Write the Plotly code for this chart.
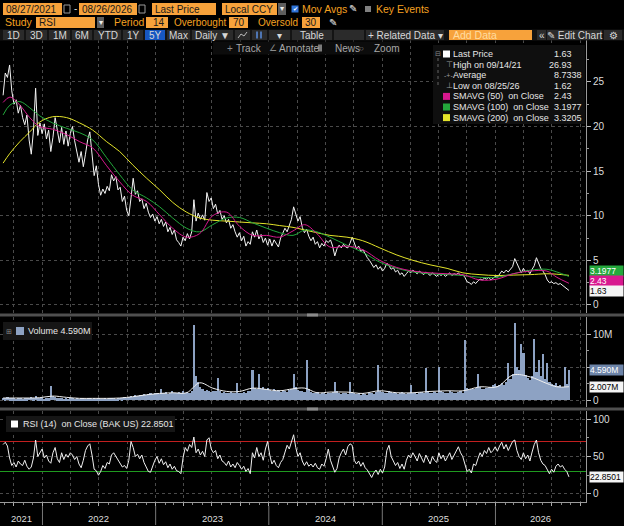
import numpy as np
import pandas as pd
import plotly.graph_objects as go

W, H = 624, 526
FONT = "Liberation Sans, Arial, sans-serif"

def PX(x):
    return x / W

def PY(y):
    return 1 - y / H

# ---------------- DATA ----------------
START, END = "2021-08-27", "2026-08-26"

price = [23.5, 26.0, 25.5, 26.9, 24.0, 22.5, 23.0, 21.5, 22.4, 21.0,
         20.2, 21.3, 18.5, 16.9, 19.5, 24.3, 19.0, 20.4, 19.2, 20.3,
         18.6, 19.6, 17.2, 18.8, 21.0, 19.4, 18.2, 19.9, 18.0, 19.5,
         17.8, 19.2, 20.0, 18.4, 17.0, 16.0, 17.2, 15.5, 16.9, 18.5,
         19.4, 17.2, 14.5, 15.6, 13.5, 12.3, 13.0, 12.5, 13.3, 12.8,
         14.6, 13.9, 14.4, 12.9, 13.2, 11.6, 12.2, 10.6, 10.0, 12.0,
         14.2, 12.4, 12.8, 11.6, 11.9, 10.8, 11.4, 10.4, 9.8, 10.2,
         9.4, 9.9, 9.1, 9.6, 8.8, 9.3, 8.2, 8.7, 7.9, 8.4,
         7.3, 7.0, 6.6, 7.6, 7.2, 8.0, 7.4, 8.2, 11.8, 9.4,
         10.3, 9.6, 10.1, 9.5, 12.6, 11.6, 12.0, 10.8, 11.3, 10.2,
         10.6, 9.6, 10.0, 9.2, 9.6, 8.6, 9.0, 8.2, 7.6, 8.1,
         7.2, 7.7, 6.6, 7.1, 6.8, 8.2, 7.6, 8.4, 7.4, 7.9,
         7.0, 7.5, 6.7, 7.4, 6.6, 7.3, 6.9, 6.5, 7.5, 8.0,
         8.6, 8.2, 8.9, 9.6, 11.0, 10.2, 9.4, 9.9, 8.7, 8.1,
         8.5, 7.7, 7.2, 7.6, 6.8, 7.1, 6.4, 6.9, 6.6, 7.2,
         7.0, 7.3, 6.6, 5.5, 6.3, 6.7, 6.4, 6.8, 6.5, 6.4,
         6.9, 7.6, 6.9, 6.3, 6.6, 6.0, 6.2, 5.7, 5.3, 5.0,
         4.6, 4.2, 4.5, 4.0, 4.3, 3.8, 4.1, 4.7, 4.4, 4.0,
         4.2, 3.7, 3.9, 3.4, 3.6, 3.2, 3.5, 3.8, 3.6, 3.9,
         3.7, 3.5, 3.8, 3.6, 3.4, 3.7, 3.5, 3.3, 3.6, 3.4,
         3.2, 3.5, 3.3, 3.5, 3.2, 3.4, 3.6, 3.3, 3.5, 3.4,
         3.6, 3.3, 3.4, 3.1, 2.6, 2.5, 2.3, 2.6, 2.4, 2.7,
         2.9, 2.8, 3.0, 2.9, 3.1, 2.8, 3.0, 3.2, 3.1, 3.5,
         3.8, 3.6, 3.9, 3.7, 4.0, 4.3, 5.2, 4.6, 4.0, 3.6,
         4.1, 3.7, 3.9, 3.5, 4.0, 4.4, 5.3, 4.7, 4.1, 3.8,
         3.4, 2.8, 2.5, 2.6, 2.4, 2.5, 2.3, 2.4, 2.2, 2.0,
         1.8, 1.63]

rsi = [66, 69, 64, 48, 38, 42, 36, 44, 40, 38,
       45, 37, 33, 36, 48, 72, 50, 56, 60, 48,
       52, 44, 41, 55, 62, 47, 42, 55, 46, 53,
       49, 55, 52, 46, 50, 40, 35, 45, 58, 64,
       67, 52, 33, 31, 25, 30, 38, 34, 42, 40,
       52, 55, 50, 46, 40, 36, 38, 34, 45, 70,
       62, 50, 53, 47, 52, 42, 36, 30, 29, 38,
       45, 50, 41, 47, 39, 43, 35, 40, 33, 37,
       31, 30, 27, 48, 62, 57, 66, 62, 76, 55,
       60, 52, 57, 50, 72, 75, 60, 55, 58, 47,
       52, 44, 42, 38, 44, 36, 40, 35, 42, 38,
       33, 37, 30, 34, 27, 55, 48, 62, 50, 55,
       45, 60, 70, 52, 40, 45, 38, 35, 42, 46,
       55, 65, 60, 70, 79, 62, 50, 55, 44, 38,
       43, 37, 40, 36, 41, 35, 33, 40, 37, 47,
       60, 45, 38, 29, 34, 48, 55, 60, 52, 63,
       67, 65, 45, 40, 44, 37, 42, 35, 32, 26,
       22, 28, 32, 26, 33, 28, 36, 58, 65, 50,
       44, 38, 42, 34, 40, 33, 45, 52, 48, 55,
       50, 44, 54, 48, 42, 52, 46, 40, 50, 45,
       42, 55, 47, 52, 44, 49, 55, 46, 52, 58,
       63, 55, 50, 40, 30, 33, 28, 40, 38, 47,
       55, 50, 58, 54, 62, 55, 58, 63, 57, 64,
       69, 60, 66, 58, 64, 70, 72, 58, 50, 46,
       55, 47, 52, 44, 56, 66, 72, 55, 45, 40,
       38, 32, 27, 33, 29, 37, 40, 36, 38, 33,
       30, 22.85]

volume_m = [0.35, 0.3, 0.4, 0.3, 0.25, 0.3, 0.2, 0.25, 0.3, 0.2,
            0.25, 0.3, 0.35, 0.4, 0.3, 0.6, 0.3, 0.25, 0.3, 0.2,
            0.25, 0.3, 2.1, 0.6, 0.4, 0.3, 0.25, 0.3, 0.2, 0.25,
            0.2, 0.25, 0.3, 0.2, 0.25, 0.2, 0.3, 0.25, 0.2, 0.3,
            0.25, 0.2, 0.3, 0.2, 0.25, 0.2, 0.2, 0.25, 0.2, 0.3,
            0.25, 0.3, 0.2, 0.3, 0.35, 0.3, 0.4, 0.35, 0.5, 0.6,
            0.5, 0.7, 0.6, 0.8, 0.7, 0.9, 0.8, 0.9, 1.0, 0.9,
            1.0, 1.0, 0.9, 1.6, 1.0, 1.2, 0.9, 1.1, 1.3, 1.0,
            1.1, 1.2, 1.0, 1.3, 1.1, 1.2, 1.0, 1.4, 11.3, 3.6,
            2.8, 2.0, 1.6, 1.4, 1.5, 1.3, 1.2, 1.4, 1.3, 3.4,
            1.3, 1.1, 1.2, 1.0, 1.1, 1.2, 1.0, 1.1, 2.6, 1.1,
            1.0, 1.2, 1.1, 1.3, 1.4, 4.5, 1.8, 1.6, 4.0, 1.7,
            1.9, 1.6, 1.8, 1.5, 1.4, 1.6, 1.3, 1.5, 1.2, 1.4,
            1.3, 1.2, 1.5, 1.6, 4.0, 1.9, 1.5, 1.3, 1.4, 1.2,
            6.1, 1.6, 1.2, 1.1, 1.0, 1.2, 0.9, 1.1, 1.0, 0.9,
            1.0, 1.1, 1.2, 2.8, 1.3, 1.0, 0.9, 1.1, 1.0, 0.9,
            2.8, 1.2, 1.0, 0.9, 1.1, 0.8, 1.0, 0.9, 0.8, 1.0,
            1.1, 0.9, 1.2, 5.3, 1.4, 1.2, 1.0, 1.1, 1.3, 1.2,
            1.0, 1.1, 0.9, 1.0, 1.2, 1.1, 0.9, 1.0, 2.3, 1.1,
            1.0, 0.9, 1.1, 1.2, 1.0, 4.8, 1.3, 1.1, 1.0, 1.2,
            1.1, 5.0, 1.4, 1.2, 1.0, 1.1, 1.3, 1.2, 1.0, 1.1,
            1.2, 1.3, 1.1, 9.1, 1.8, 1.5, 1.7, 1.6, 1.8, 4.0,
            1.9, 1.7, 1.6, 1.8, 2.0, 1.9, 2.2, 2.4, 2.1, 2.3,
            2.6, 2.2, 2.8, 5.6, 3.2, 4.0, 11.6, 5.0, 4.5, 8.5,
            7.1, 3.8, 3.4, 3.0, 3.6, 9.2, 4.2, 6.0, 3.6, 7.0,
            3.2, 5.6, 2.8, 2.4, 2.2, 2.6, 2.1, 2.3, 2.0, 5.0,
            2.4, 4.59]

ma_dates = ["2021-08-27", "2021-09-18", "2021-10-20", "2021-11-21", "2021-12-23",
            "2022-02-03", "2022-03-20", "2022-05-01", "2022-06-12", "2022-07-27",
            "2022-09-07", "2022-10-19", "2022-12-03", "2023-01-14", "2023-02-25",
            "2023-04-11", "2023-05-23", "2023-07-04", "2023-08-18", "2023-09-29",
            "2023-11-10", "2023-12-25", "2024-02-05", "2024-03-19", "2024-04-26",
            "2024-06-04", "2024-07-16", "2024-09-09", "2024-10-30", "2024-12-24",
            "2025-02-17", "2025-04-10", "2025-06-04", "2025-07-29", "2025-09-18",
            "2025-11-12", "2026-01-06", "2026-02-27", "2026-04-23", "2026-06-16",
            "2026-07-18", "2026-08-26"]
sma50 = [22.7, 23.3, 22.4, 21.0, 20.0, 19.7, 19.1, 18.3, 17.6, 15.6,
         13.8, 12.3, 11.6, 10.1, 8.6, 7.6, 8.0, 10.0, 10.4, 8.8,
         7.8, 7.8, 7.6, 8.3, 9.0, 8.0, 6.5, 6.6, 6.2, 5.0,
         4.2, 3.8, 3.6, 3.5, 3.4, 2.8, 2.9, 3.5, 3.8, 3.8,
         3.1, 2.43]
sma100 = [21.3, 22.4, 22.8, 22.1, 21.2, 20.4, 19.8, 19.3, 18.5, 16.5,
          14.6, 12.9, 12.0, 11.0, 9.75, 8.6, 8.2, 9.0, 9.75, 9.8,
          9.2, 8.6, 8.1, 7.8, 8.4, 8.2, 7.6, 6.7, 5.9, 4.8,
          4.1, 3.7, 3.5, 3.4, 3.3, 3.1, 3.1, 3.5, 3.9, 4.0,
          3.7, 3.1977]
sma200 = [15.9, 17.0, 18.3, 19.4, 20.5, 21.1, 21.0, 20.4, 19.6, 18.3,
          17.2, 15.7, 14.2, 12.9, 11.5, 10.4, 9.75, 9.5, 9.4, 9.3,
          9.2, 9.1, 8.9, 8.7, 8.4, 8.1, 7.8, 7.6, 7.2, 6.4,
          5.6, 5.0, 4.5, 4.1, 3.6, 3.4, 3.3, 3.35, 3.4, 3.5,
          3.45, 3.3205]
vol_ma_m = [0.3, 0.3, 0.3, 0.3, 0.35, 0.6, 0.4, 0.25, 0.25, 0.25,
            0.3, 0.5, 0.8, 1.0, 1.1, 1.1, 2.6, 1.8, 1.3, 1.3,
            1.8, 1.6, 1.4, 1.7, 1.8, 1.1, 1.2, 1.2, 1.0, 1.4,
            1.1, 1.1, 1.3, 1.4, 1.4, 2.0, 2.0, 3.8, 3.5, 2.5,
            2.0, 2.007]

rsi_overbought, rsi_oversold = 70, 30

year_labels = ["2021", "2022", "2023", "2024", "2025", "2026"]
year_label_dates = ["2021-10-26", "2022-07-02", "2023-07-02", "2024-07-01", "2025-07-02", "2026-05-26"]
year_starts = ["2022-01-01", "2023-01-01", "2024-01-01", "2025-01-01", "2026-01-01"]

legend_rows = [("Last Price", "1.63"), ("High on 09/14/21", "26.93"), ("Average", "8.7338"),
               ("Low on 08/25/26", "1.62"), ("SMAVG (50)  on Close", "2.43"),
               ("SMAVG (100)  on Close", "3.1977"), ("SMAVG (200)  on Close", "3.3205")]

X_RANGE = ["2021-08-17", "2026-10-20"]

# ---------------- DERIVED DATES ----------------
t0, t1 = pd.Timestamp(START), pd.Timestamp(END)

def grid(n):
    return pd.to_datetime(np.linspace(t0.value, t1.value, n))

d_price = grid(len(price))
d_rsi = grid(len(rsi))
d_vol = grid(len(volume_m))
bar_w = (t1 - t0).total_seconds() * 1000 / (len(volume_m) - 1)
ma_d = pd.to_datetime(ma_dates)

C_MAG, C_GRN, C_YEL = "#d8188f", "#24a83c", "#e4e42a"
C_VOL = "#8da2c3"

fig = go.Figure()
fig.add_trace(go.Scatter(x=d_price, y=price, mode="lines", line=dict(color="#f4f4f4", width=1),
                         xaxis="x", yaxis="y"))
for arr, col in [(sma200, C_YEL), (sma100, C_GRN), (sma50, C_MAG)]:
    fig.add_trace(go.Scatter(x=ma_d, y=arr, mode="lines", line=dict(color=col, width=1, shape="spline"),
                             xaxis="x", yaxis="y"))
fig.add_trace(go.Bar(x=d_vol, y=[v * 1e6 for v in volume_m], width=bar_w,
                     marker=dict(color=C_VOL, line=dict(width=0)), xaxis="x2", yaxis="y2"))
fig.add_trace(go.Scatter(x=ma_d, y=[v * 1e6 for v in vol_ma_m], mode="lines",
                         line=dict(color="#f0f0f0", width=1, shape="spline"), xaxis="x2", yaxis="y2"))
for lvl, col in [(rsi_overbought, "#c21f1f"), (rsi_oversold, "#1f9a1f")]:
    fig.add_trace(go.Scatter(x=X_RANGE, y=[lvl, lvl], mode="lines", line=dict(color=col, width=1.2),
                             xaxis="x3", yaxis="y3"))
fig.add_trace(go.Scatter(x=d_rsi, y=rsi, mode="lines", line=dict(color="#f0f0f0", width=1),
                         xaxis="x3", yaxis="y3"))

XD = [0, 586 / W]
GRID = "#4a4a4a"
xcommon = dict(type="date", range=X_RANGE, domain=XD, showgrid=True, gridcolor=GRID, griddash="dot",
               gridwidth=1, tick0="2021-10-01", dtick="M3", showticklabels=False, zeroline=False,
               showline=False, ticks="")
ycommon = dict(side="right", showgrid=True, gridcolor=GRID, griddash="dot", gridwidth=1, zeroline=False,
               showline=True, linecolor="#9a9a9a", linewidth=1, ticks="outside", ticklen=4,
               tickcolor="#bbbbbb", tickfont=dict(family=FONT, size=10, color="#dddddd"))

fig.update_layout(
    width=W, height=H, margin=dict(l=0, r=0, t=0, b=0),
    paper_bgcolor="black", plot_bgcolor="black", showlegend=False, hovermode=False,
    bargap=0,
    xaxis=dict(xcommon, anchor="y"),
    xaxis2=dict(xcommon, anchor="y2", matches="x"),
    xaxis3=dict(xcommon, anchor="y3", matches="x", showline=True, linecolor="#9a9a9a",
                ticks="outside", ticklen=3, tickcolor="#aaaaaa",
                minor=dict(dtick="M1", ticks="outside", ticklen=2, tickcolor="#888888", showgrid=False)),
    yaxis=dict(ycommon, anchor="x", domain=[PY(313), PY(40)], range=[-0.9, 29.7], tick0=0, dtick=5,
               minor=dict(dtick=2.5, ticks="outside", ticklen=2, tickcolor="#999999", showgrid=False)),
    yaxis2=dict(ycommon, anchor="x2", domain=[PY(407), PY(317)], range=[-1.06e6, 12.58e6],
                tickmode="array", tickvals=[0, 5e6, 1e7], ticktext=["0", "", "10M"],
                minor=dict(tickvals=[2.5e6, 7.5e6], ticks="outside", ticklen=2, tickcolor="#999999",
                           showgrid=False)),
    yaxis3=dict(ycommon, anchor="x3", domain=[PY(502), PY(411)], range=[-10.7, 110.7],
                tickmode="array", tickvals=[0, 50, 100], ticktext=["0", "50", "100"],
                minor=dict(tickvals=[25, 75], ticks="outside", ticklen=2, tickcolor="#999999",
                           showgrid=False)),
)

shapes, anns = [], []

def rect(x0, y0, x1, y1, fill, line_color=None, lw=0):
    shapes.append(dict(type="rect", xref="paper", yref="paper", x0=PX(x0), x1=PX(x1), y0=PY(y1), y1=PY(y0),
                       fillcolor=fill, line=dict(width=lw, color=line_color or fill), layer="above"))

def txt(x, y, s, color="#dddddd", size=9, anchor="left", **kw):
    anns.append(dict(xref="paper", yref="paper", x=PX(x), y=PY(y), text=s, showarrow=False,
                     xanchor=anchor, yanchor="middle", borderpad=0,
                     font=dict(family=FONT, size=size, color=color), **kw))

# separators
rect(0, 313.5, 624, 316.5, "#4f4f4f")
rect(0, 407.5, 624, 410.5, "#4f4f4f")
rect(307, 313.5, 318, 316.5, "#8a8a8a")
rect(307, 407.5, 318, 410.5, "#8a8a8a")

# year separators + labels
for ys in year_starts:
    shapes.append(dict(type="line", xref="x3", yref="paper", x0=ys, x1=ys, y0=PY(525), y1=PY(506),
                       line=dict(color="#777777", width=1)))
for lab, d in zip(year_labels, year_label_dates):
    anns.append(dict(xref="x3", yref="paper", x=d, y=PY(518), text=lab, showarrow=False,
                     xanchor="center", yanchor="middle",
                     font=dict(family=FONT, size=9.5, color="#dddddd")))

# ---------- toolbar ----------
OR_BOX, OR_TXT, DARK = "#f7a23b", "#f4a020", "#1a1a1a"
TB = 10
for x0, x1, s in [(3, 62, "08/27/2021"), (79, 137, "08/26/2026"), (152, 216, "Last Price"), (222, 277, "Local CCY")]:
    rect(x0, 3, x1, 15, OR_BOX)
    txt(x0 + 2, 9.2, s, DARK, TB)
for x0 in (64, 139):
    rect(x0, 5, x0 + 6, 13, "#000000", "#9a9a9a", 1)
txt(73, 9, "-", "#dddddd", TB)
rect(278, 3, 286, 15, "#5e5e5e")
txt(282, 9, "▾", "#eeeeee", 8, "center")
rect(291.5, 5.5, 298.5, 12.5, "#2f73d8")
txt(295, 9, "✔", "#ffffff", 6, "center")
txt(301, 9.2, "Mov Avgs", OR_TXT, TB + 0.5)
txt(348, 9, "✎", "#eeeeee", 10)
rect(365, 6, 371, 12, "#808080")
txt(375, 9.2, "Key Events", OR_TXT, TB + 0.5)

txt(4, 22.5, "Study", OR_TXT, TB + 0.5)
rect(36, 17, 95, 28, OR_BOX)
txt(38, 22.7, "RSI", DARK, TB)
rect(97, 17, 104, 28, "#5e5e5e")
txt(100.5, 22.5, "▾", "#eeeeee", 8, "center")
txt(113, 22.5, "Period", OR_TXT, TB + 0.5)
txt(173, 22.5, "Overbought", OR_TXT, TB)
txt(257, 22.5, "Oversold", OR_TXT, TB)
for x0, x1, s in [(146, 168, "14"), (229, 248, "70"), (302, 320, "30")]:
    rect(x0, 17, x1, 28, OR_BOX)
    txt(x1 - 2, 22.7, s, DARK, TB, "right")
txt(328, 22, "✎", "#eeeeee", 10)

rect(0, 29.5, 624, 40.5, "#141414")
for x0, x1, s in [(3, 24, "1D"), (26, 47, "3D"), (49, 70, "1M"), (72, 92, "6M"), (94, 121, "YTD"),
                  (123, 143, "1Y"), (145, 165, "5Y"), (167, 190, "Max"), (192, 233, "Daily ▼"),
                  (235, 250, ""), (252, 267, ""), (269, 290, "▾"), (292, 332, "Table"), (334, 364, ""),
                  (366, 444, "+ Related Data ▾"), (537, 546, "«"), (547, 602, "✎ Edit Chart"),
                  (604, 622, "⚙")]:
    rect(x0, 30, x1, 40, "#1757c2" if s == "5Y" else "#2b2b2b")
    if s:
        txt((x0 + x1) / 2, 35.2, s, "#d8d8d8", 10, "center")
rect(449, 30, 532, 40, OR_BOX)
txt(452, 35.2, "Add Data", "#ffdca0", 10.5)
# small chart-type icons
shapes.append(dict(type="path", xref="paper", yref="paper", layer="above",
                   path=f"M {PX(238)},{PY(38)} L {PX(241)},{PY(34)} L {PX(244)},{PY(36)} L {PX(247)},{PY(32)}",
                   line=dict(color="#bbbbbb", width=1)))
for xx in (257, 261):
    shapes.append(dict(type="line", xref="paper", yref="paper", layer="above",
                       x0=PX(xx), x1=PX(xx), y0=PY(38.5), y1=PY(31.5), line=dict(color="#5b8fe0", width=1.5)))

# row 4
rect(213, 41.5, 400, 54.5, "#0c0c0c")
txt(226, 48, "+", "#8a8a8a", 10)
txt(235, 48, "Track", "#a8a8a8", 10)
txt(268, 48, "∠", "#8a8a8a", 9)
txt(278, 48, "Annotate", "#a8a8a8", 10)
rect(318, 44.5, 322, 51.5, "#7a7a7a")
txt(334, 48, "News", "#a8a8a8", 10)
txt(358, 48, "○", "#8a8a8a", 8)
txt(373, 48, "Zoom", "#a8a8a8", 10)

# ---------- main legend ----------
rect(433, 45, 585, 124, "#0f0f0f")
row_y = [54, 64.6, 75.2, 85.8, 96.4, 107, 117.6]
icon_fill = ["#ffffff", None, None, None, C_MAG, C_GRN, C_YEL]
for (lab, val), yy, fill in zip(legend_rows, row_y, icon_fill):
    if fill:
        rect(443, yy - 3.5, 450, yy + 3.5, fill)
    txt(452, yy, lab, "#e6e6e6", 9)
    txt(548 if val.startswith("26") else 553, yy, val, "#e6e6e6", 9)
txt(445, row_y[1], "⊤", "#9a9a9a", 8)
txt(443, row_y[2], "-+-", "#9a9a9a", 7)
txt(445, row_y[3], "⊥", "#9a9a9a", 8)
txt(434, row_y[0], "⊟", "#8a8a8a", 7)
shapes.append(dict(type="line", xref="paper", yref="paper", layer="above", x0=PX(438), x1=PX(438),
                   y0=PY(58), y1=PY(86), line=dict(color="#666666", width=1, dash="dot")))

# ---------- volume legend ----------
rect(3, 322, 92, 340, "#161616")
txt(5, 331, "⊞", "#8a8a8a", 7)
rect(16, 327, 24, 335, C_VOL)
txt(27, 331, "Volume 4.590M", "#e6e6e6", 9)

# ---------- RSI legend ----------
rect(6, 416, 175, 432, "#161616")
rect(11, 420.5, 18, 427.5, "#ffffff")
txt(22, 424, "RSI (14)  on Close (BAK US) 22.8501", "#e6e6e6", 9)

# ---------- value tags on right axis ----------
def tag(yref, yval, s, bg, fg, yshift=0):
    anns.append(dict(xref="paper", yref=yref, x=PX(589), y=yval, yshift=yshift, text=s, showarrow=False,
                     xanchor="left", yanchor="middle", bgcolor=bg, borderpad=0, width=33, align="left",
                     font=dict(family=FONT, size=8.5, color=fg)))

tag("y", 3.1977, "3.1977", C_GRN, "#ffffff", 5)
tag("y", 2.43, "2.43", C_MAG, "#ffffff", 2)
tag("y", 1.63, "1.63", "#f4f4f4", "#000000", -1)
tag("y2", 4.59e6, "4.590M", "#6d84a8", "#ffffff", 0)
tag("y2", 2.007e6, "2.007M", "#f4f4f4", "#000000", 0)
tag("y3", 22.8501, "22.8501", "#f4f4f4", "#000000", 0)

fig.update_layout(shapes=shapes, annotations=anns)

fig.write_html("out.html", config={"displayModeBar": False},
               post_script="document.body.style.margin='0';document.body.style.overflow='hidden';")
